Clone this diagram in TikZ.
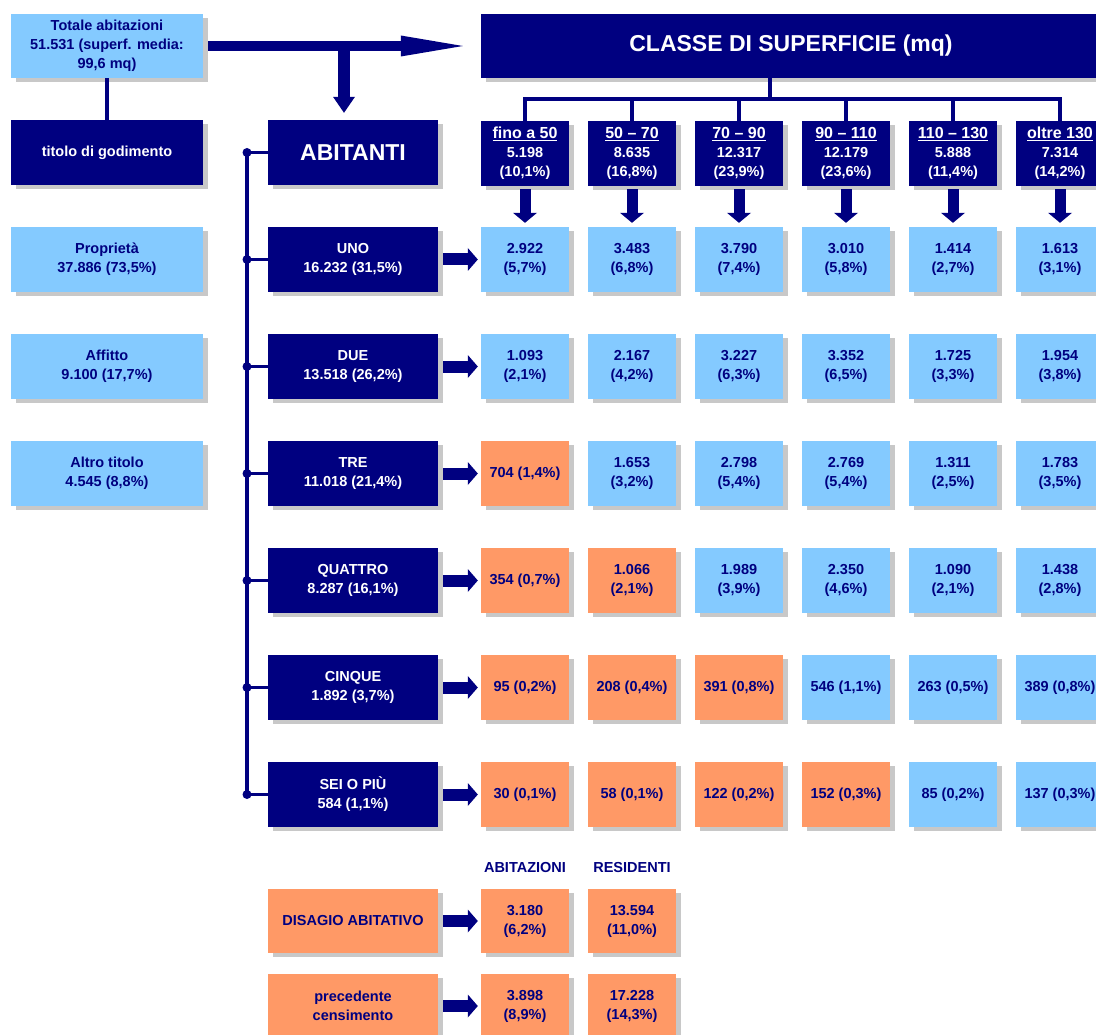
\documentclass[tikz,border=0pt]{standalone}
\usepackage{fontspec}
\setmainfont{Liberation Sans}
\usetikzlibrary{shadows,arrows.meta}
\definecolor{navy}{HTML}{000080}
\definecolor{lblue}{HTML}{84CAFF}
\definecolor{orng}{HTML}{FF9966}
\definecolor{shgrey}{HTML}{C8C8C8}
\tikzset{
  box/.style={rectangle, inner sep=2pt, align=center,
    font=\bfseries\fontsize{14.5}{19}\selectfont,
    drop shadow={shadow xshift=5pt, shadow yshift=-4pt, fill=shgrey, opacity=1}},
  dk/.style={box, fill=navy, text=white},
  lb/.style={box, fill=lblue, text=navy},
  og/.style={box, fill=orng, text=navy},
  wide/.style={minimum width=192pt, minimum height=65pt},
  rowb/.style={minimum width=170pt, minimum height=65pt},
  cell/.style={minimum width=88pt, minimum height=65pt},
  big/.style={font=\bfseries\fontsize{23}{26}\selectfont},
  conn/.style={draw=navy, line width=3.5pt},
  fatr/.style={draw=navy, line width=12pt, -{Triangle[length=10pt,width=23pt,line width=0pt]}, shorten <=5pt, shorten >=3pt},
  fatd/.style={draw=navy, line width=11pt, -{Triangle[length=10pt,width=24pt,line width=0pt]}, shorten <=3pt, shorten >=4pt},
  lbl/.style={text=navy, font=\bfseries\fontsize{14.5}{19}\selectfont}
}
\begin{document}
\begin{tikzpicture}[x=1pt,y=-1pt]
\useasboundingbox (0,0) rectangle (1096,1035);
\clip (0,0) rectangle (1096,1035);
\fill[white] (0,0) rectangle (1096,1035);

% left column
\node[lb,wide,minimum height=64pt] (tot) at (107,46) {Totale abitazioni\\51.531 (superf. media:\\99,6 mq)};
\node[dk,wide] (tit) at (107,152.5) {titolo di godimento};
\node[lb,wide] (prop) at (107,259.5) {Propriet\`a\\37.886 (73,5\%)};
\node[lb,wide] (aff) at (107,366.5) {Affitto\\9.100 (17,7\%)};
\node[lb,wide] (alt) at (107,473.5) {Altro titolo\\4.545 (8,8\%)};

% titles
\node[dk,big,minimum width=620pt,minimum height=64pt] (cls) at (791,46) {CLASSE DI SUPERFICIE (mq)};
\node[dk,big,rowb] (abit) at (353,152.5) {ABITANTI};

% column headers
\node[dk,cell] (h1) at (525,153.5) {{\fontsize{16}{20}\selectfont\underline{fino a 50}}\\5.198\\(10,1\%)};
\node[dk,cell] (h2) at (632,153.5) {{\fontsize{16}{20}\selectfont\underline{50 -- 70}}\\8.635\\(16,8\%)};
\node[dk,cell] (h3) at (739,153.5) {{\fontsize{16}{20}\selectfont\underline{70 -- 90}}\\12.317\\(23,9\%)};
\node[dk,cell] (h4) at (846,153.5) {{\fontsize{16}{20}\selectfont\underline{90 -- 110}}\\12.179\\(23,6\%)};
\node[dk,cell] (h5) at (953,153.5) {{\fontsize{16}{20}\selectfont\underline{110 -- 130}}\\5.888\\(11,4\%)};
\node[dk,cell] (h6) at (1060,153.5) {{\fontsize{16}{20}\selectfont\underline{oltre 130}}\\7.314\\(14,2\%)};

% row boxes
\node[dk,rowb] (r1) at (353,259.5) {UNO\\16.232 (31,5\%)};
\node[dk,rowb] (r2) at (353,366.5) {DUE\\13.518 (26,2\%)};
\node[dk,rowb] (r3) at (353,473.5) {TRE\\11.018 (21,4\%)};
\node[dk,rowb] (r4) at (353,580.5) {QUATTRO\\8.287 (16,1\%)};
\node[dk,rowb] (r5) at (353,687.5) {CINQUE\\1.892 (3,7\%)};
\node[dk,rowb] (r6) at (353,794.5) {SEI O PI\`U\\584 (1,1\%)};

% row 1
\node[lb,cell] (v11) at (525,259.5) {2.922\\(5,7\%)};
\node[lb,cell] (v12) at (632,259.5) {3.483\\(6,8\%)};
\node[lb,cell] (v13) at (739,259.5) {3.790\\(7,4\%)};
\node[lb,cell] (v14) at (846,259.5) {3.010\\(5,8\%)};
\node[lb,cell] (v15) at (953,259.5) {1.414\\(2,7\%)};
\node[lb,cell] (v16) at (1060,259.5) {1.613\\(3,1\%)};
% row 2
\node[lb,cell] (v21) at (525,366.5) {1.093\\(2,1\%)};
\node[lb,cell] (v22) at (632,366.5) {2.167\\(4,2\%)};
\node[lb,cell] (v23) at (739,366.5) {3.227\\(6,3\%)};
\node[lb,cell] (v24) at (846,366.5) {3.352\\(6,5\%)};
\node[lb,cell] (v25) at (953,366.5) {1.725\\(3,3\%)};
\node[lb,cell] (v26) at (1060,366.5) {1.954\\(3,8\%)};
% row 3
\node[og,cell] (v31) at (525,473.5) {704 (1,4\%)};
\node[lb,cell] (v32) at (632,473.5) {1.653\\(3,2\%)};
\node[lb,cell] (v33) at (739,473.5) {2.798\\(5,4\%)};
\node[lb,cell] (v34) at (846,473.5) {2.769\\(5,4\%)};
\node[lb,cell] (v35) at (953,473.5) {1.311\\(2,5\%)};
\node[lb,cell] (v36) at (1060,473.5) {1.783\\(3,5\%)};
% row 4
\node[og,cell] (v41) at (525,580.5) {354 (0,7\%)};
\node[og,cell] (v42) at (632,580.5) {1.066\\(2,1\%)};
\node[lb,cell] (v43) at (739,580.5) {1.989\\(3,9\%)};
\node[lb,cell] (v44) at (846,580.5) {2.350\\(4,6\%)};
\node[lb,cell] (v45) at (953,580.5) {1.090\\(2,1\%)};
\node[lb,cell] (v46) at (1060,580.5) {1.438\\(2,8\%)};
% row 5
\node[og,cell] (v51) at (525,687.5) {95 (0,2\%)};
\node[og,cell] (v52) at (632,687.5) {208 (0,4\%)};
\node[og,cell] (v53) at (739,687.5) {391 (0,8\%)};
\node[lb,cell] (v54) at (846,687.5) {546 (1,1\%)};
\node[lb,cell] (v55) at (953,687.5) {263 (0,5\%)};
\node[lb,cell] (v56) at (1060,687.5) {389 (0,8\%)};
% row 6
\node[og,cell] (v61) at (525,794.5) {30 (0,1\%)};
\node[og,cell] (v62) at (632,794.5) {58 (0,1\%)};
\node[og,cell] (v63) at (739,794.5) {122 (0,2\%)};
\node[og,cell] (v64) at (846,794.5) {152 (0,3\%)};
\node[lb,cell] (v65) at (953,794.5) {85 (0,2\%)};
\node[lb,cell] (v66) at (1060,794.5) {137 (0,3\%)};

% bottom section
\node[lbl] (labA) at (525,868) {ABITAZIONI};
\node[lbl] (labR) at (632,868) {RESIDENTI};
\node[og,rowb,minimum height=64pt] (dis) at (353,921) {DISAGIO ABITATIVO};
\node[og,cell,minimum height=64pt] (dA) at (525,921) {3.180\\(6,2\%)};
\node[og,cell,minimum height=64pt] (dR) at (632,921) {13.594\\(11,0\%)};
\node[og,rowb,minimum height=64pt] (pre) at (353,1006) {precedente\\censimento};
\node[og,cell,minimum height=64pt] (pA) at (525,1006) {3.898\\(8,9\%)};
\node[og,cell,minimum height=64pt] (pR) at (632,1006) {17.228\\(14,3\%)};

% connectors
\draw[conn] (tot) -- (tit);
\draw[draw=navy, line width=10pt, -{Triangle[length=62pt,width=21pt,line width=0pt]}, shorten <=5pt, shorten >=18pt] (tot.east) -- (cls.west);
\coordinate (j) at (344,47);
\draw[draw=navy, line width=12pt, -{Triangle[length=16pt,width=22pt,line width=0pt]}, shorten >=7pt] (j) -- (j |- abit.north);

\coordinate (cx) at (770,0);
\coordinate (bus) at (0,99);
\draw[conn] (cls.south -| cx) -- (cx |- bus);
\draw[conn, line cap=rect] (h1.north) -- (h1 |- bus) -- (h6 |- bus) -- (h6.north);
\foreach \n in {h2,h3,h4,h5} \draw[conn] (\n.north) -- (\n |- bus);

\coordinate (bx) at (247,0);
\draw[conn] (abit.west -| bx) -- (r6.west -| bx);
\foreach \n in {abit,r1,r2,r3,r4,r5,r6}{
  \draw[conn] (\n.west -| bx) -- (\n.west);
  \fill[navy] (\n.west -| bx) circle (4.5pt);
}

\foreach \i in {1,...,6}{
  \draw[fatd] (h\i) -- (v1\i);
  \draw[fatr] (r\i) -- (v\i1);
}
\draw[fatr] (dis) -- (dA);
\draw[fatr] (pre) -- (pA);
\end{tikzpicture}
\end{document}
